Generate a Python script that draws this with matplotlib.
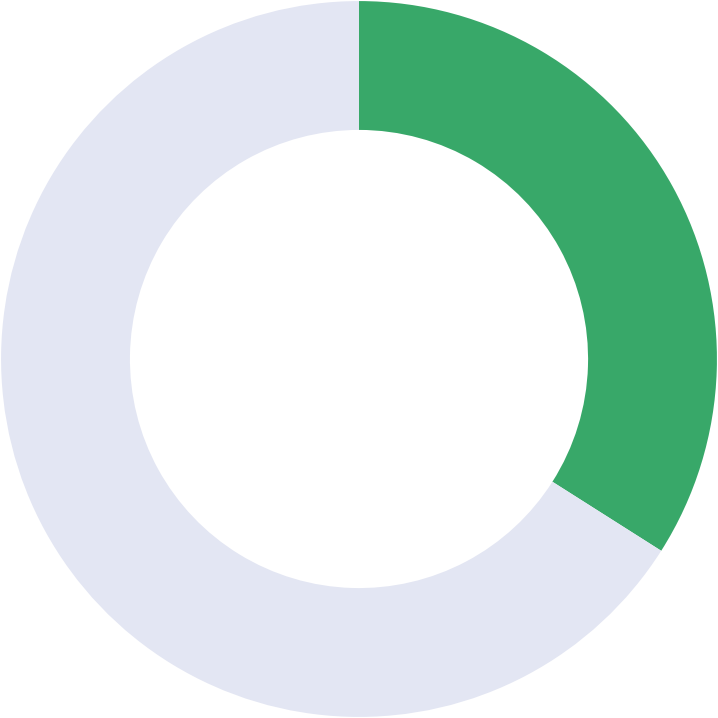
import matplotlib
matplotlib.use("Agg")
import matplotlib.pyplot as plt

# share shown vs remainder
labels = ["Value", "Remaining"]
values = [34, 66]
colors = ["#38a869", "#e3e6f3"]

fig = plt.figure(figsize=(7.18, 7.18), dpi=100)
ax = fig.add_axes([0, 0, 1, 1])

ax.pie(values, colors=colors, startangle=90, counterclock=False,
       radius=1.0, wedgeprops=dict(width=0.36, edgecolor="none"))
ax.set_xlim(-1.003, 1.003)
ax.set_ylim(-1.003, 1.003)
ax.set_aspect("equal")
ax.axis("off")

fig.savefig("out.png", dpi=100, facecolor="white")
